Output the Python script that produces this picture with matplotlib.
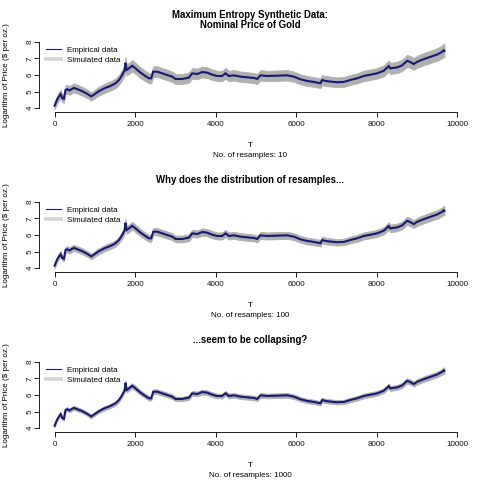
import matplotlib
matplotlib.use("Agg")
import matplotlib.pyplot as plt
from matplotlib.lines import Line2D
import numpy as np

plt.rcParams['font.family'] = ['Liberation Sans', 'DejaVu Sans']

# ---- data ----
t = [0, 60, 108, 150, 190, 230, 273, 315, 372, 420,
     480, 563, 687, 811, 910, 993, 1100, 1225, 1390, 1515,
     1600, 1680, 1740, 1763, 1790, 1846, 1929, 2011, 2136, 2218,
     2343, 2400, 2450, 2550, 2674, 2798, 2922, 3005, 3170, 3336,
     3419, 3543, 3667, 3791, 3916, 4040, 4160, 4247, 4330, 4454,
     4619, 4785, 4950, 5033, 5116, 5281, 5530, 5778, 5944, 6109,
     6275, 6440, 6606, 6647, 6730, 6854, 7020, 7185, 7351, 7516,
     7682, 7848, 8013, 8179, 8303, 8340, 8510, 8634, 8758, 8840,
     8924, 9006, 9172, 9337, 9503, 9627, 9668, 9685]
log_price = [4.14, 4.5, 4.7, 4.84, 4.6, 4.56, 5.1, 5.14, 5.06, 5.14,
             5.22, 5.14, 5.02, 4.86, 4.7, 4.84, 5.02, 5.18, 5.34, 5.5,
             5.7, 6.0, 6.3, 6.74, 6.3, 6.4, 6.56, 6.4, 6.14, 6.0,
             5.8, 5.8, 6.2, 6.2, 6.1, 6.0, 5.9, 5.76, 5.76, 5.84,
             6.1, 6.06, 6.18, 6.14, 6.02, 5.94, 5.94, 6.1, 5.94, 5.98,
             5.9, 5.86, 5.82, 5.76, 5.98, 5.94, 5.96, 5.98, 5.9, 5.74,
             5.64, 5.58, 5.5, 5.7, 5.64, 5.6, 5.56, 5.58, 5.7, 5.8,
             5.94, 6.02, 6.1, 6.26, 6.54, 6.4, 6.46, 6.58, 6.86, 6.78,
             6.66, 6.8, 6.96, 7.1, 7.24, 7.4, 7.5, 7.46]

resamples = [10, 100, 1000]
rel_spread = [0.053, 0.036, 0.024]     # relative half-width of simulated band
titles = ["Maximum Entropy Synthetic Data:\nNominal Price of Gold",
          "Why does the distribution of resamples...",
          "...seem to be collapsing?"]
x_ticks = [0, 2000, 4000, 6000, 8000, 10000]
y_ticks = [4, 5, 6, 7, 8]
ylim = [3.79, 8.18]

NAVY = "#191970"
BAND = "#b0b0b0"
LEG_GRAY = "#d3d3d3"

W = H = 480
fig = plt.figure(figsize=(4.8, 4.8), dpi=100)

def fx(px):
    return px / W

def fy(py):
    return 1 - py / H

FS = 5.8
FS_TITLE = 6.9

tt = np.array(t, dtype=float)
yy = np.array(log_price)
pad = 0.04 * (tt.max() - tt.min())
xlim = [tt.min() - pad, tt.max() + pad]

for k in range(3):
    top = 160 * k
    left, right = 39, 460
    ptop, pbot = top + 39, top + 111.5
    ax = fig.add_axes([fx(left), fy(pbot), fx(right - left), (pbot - ptop) / H])
    hw = rel_spread[k] * yy
    ax.fill_between(tt, yy - hw, yy + hw, color=BAND, lw=0.6, edgecolor=BAND)
    ax.plot(tt, yy, color=NAVY, lw=1.5, solid_joinstyle='miter')
    ax.set_xlim(xlim)
    ax.set_ylim(ylim)
    for s in ['top', 'right']:
        ax.spines[s].set_visible(False)
    ax.spines['left'].set_bounds(y_ticks[0], y_ticks[-1])
    ax.spines['bottom'].set_bounds(x_ticks[0], x_ticks[-1])
    for s in ['left', 'bottom']:
        ax.spines[s].set_linewidth(0.72)
        ax.spines[s].set_color('#222222')
    ax.set_xticks(x_ticks)
    ax.set_xticklabels([str(v) for v in x_ticks])
    ax.set_yticks(y_ticks)
    ax.set_yticklabels([str(v) for v in y_ticks], rotation=90, va='center')
    ax.tick_params(axis='both', length=3.4, width=0.72, color='#222222',
                   labelsize=FS, labelcolor='#111111')
    ax.tick_params(axis='x', pad=3.6)
    ax.tick_params(axis='y', pad=0.2)
    ax.set_facecolor('none')

    handles = [Line2D([], [], color=NAVY, lw=0.8),
               Line2D([], [], color=LEG_GRAY, lw=2.6)]
    ax.legend(handles, ["Empirical data", "Simulated data"], loc='upper left',
              bbox_to_anchor=(3.0 / (right - left), 1 - 4.0 / (pbot - ptop)),
              frameon=False, fontsize=FS, handlelength=1.9, handletextpad=0.75,
              labelspacing=0.2, borderpad=0.45, borderaxespad=0)

    # titles / labels
    if "\n" in titles[k]:
        l1, l2 = titles[k].split("\n")
        fig.text(fx(250), fy(top + 15.5), l1, ha='center', va='center',
                 fontsize=FS_TITLE, fontweight='bold')
        fig.text(fx(250), fy(top + 25.5), l2, ha='center', va='center',
                 fontsize=FS_TITLE, fontweight='bold')
    else:
        fig.text(fx(250), fy(top + 20), titles[k], ha='center', va='center',
                 fontsize=FS_TITLE, fontweight='bold')
    fig.text(fx(250), fy(top + 145.5), "T", ha='center', va='center', fontsize=FS)
    fig.text(fx(250), fy(top + 155.5), f"No. of resamples: {resamples[k]}",
             ha='center', va='center', fontsize=FS)
    fig.text(fx(7), fy(top + 75), "Logarithm of Price ($ per oz.)", ha='center',
             va='center', rotation=90, fontsize=FS)

fig.savefig("out.png", dpi=100, facecolor='white')
